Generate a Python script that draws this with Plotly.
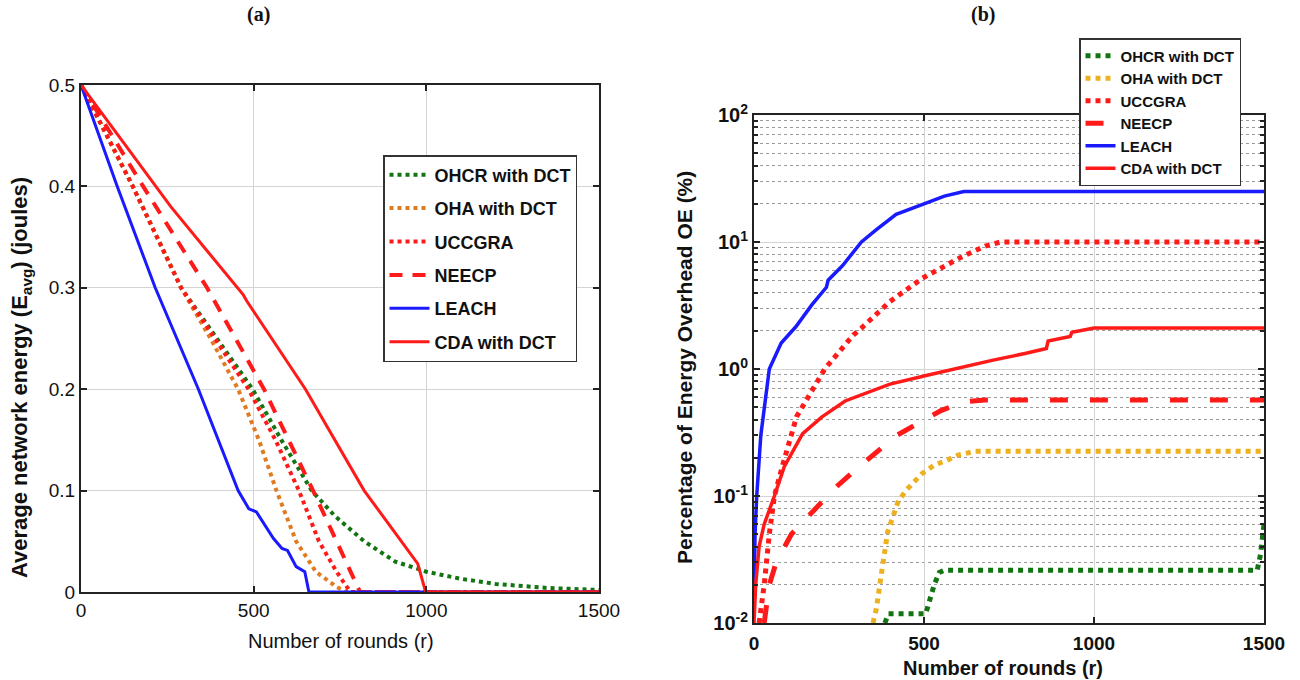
import plotly.graph_objects as go

# ---------- (a) average residual energy per node ----------
a_leach_r = [0, 105, 215, 340, 455, 486, 508, 537, 557, 582, 598, 623, 648, 660, 1500]
a_leach_e = [0.5, 0.4, 0.3, 0.2, 0.1, 0.082, 0.079, 0.064, 0.053, 0.043, 0.041, 0.025, 0.02, 0.0, 0.0]

a_cda_r = [0, 250, 260, 470, 480, 650, 820, 975, 998, 1500]
a_cda_e = [0.5, 0.385, 0.38, 0.293, 0.287, 0.2, 0.1, 0.028, 0.0, 0.0]

a_neecp_r = [0, 180, 365, 530, 672, 808, 1500]
a_neecp_e = [0.5, 0.4, 0.3, 0.2, 0.1, 0.0, 0.0]

a_uccgra_r = [0, 150, 290, 485, 563, 631, 689, 740, 780, 1500]
a_uccgra_e = [0.5, 0.4, 0.3, 0.2, 0.15, 0.1, 0.05, 0.02, 0.0, 0.0]

a_oha_r = [0, 150, 290, 375, 455, 515, 566, 623, 680, 740, 770, 1500]
a_oha_e = [0.5, 0.4, 0.3, 0.25, 0.2, 0.15, 0.1, 0.05, 0.02, 0.005, 0.0, 0.0]

a_ohcr_r = [0, 150, 290, 497, 580, 668, 735, 820, 910, 1000, 1100, 1200, 1350, 1500]
a_ohcr_e = [0.5, 0.4, 0.3, 0.2, 0.15, 0.1, 0.075, 0.05, 0.03, 0.02, 0.013, 0.008, 0.004, 0.002]

# ---------- (b) energy overhead (%) ----------
b_leach_r = [0, 3, 8, 20, 45, 80, 123, 170, 213, 218, 260, 316, 360, 418, 500, 560, 617, 1500]
b_leach_v = [0.012, 0.05, 0.1, 0.3, 1.0, 1.6, 2.15, 3.2, 4.4, 5.0, 6.5, 10, 12.5, 16.5, 20, 23, 25, 25]

b_uccgra_r = [15, 30, 45, 60, 83, 125, 208, 292, 316, 400, 496, 605, 680, 725, 1500]
b_uccgra_v = [0.01, 0.02, 0.05, 0.1, 0.17, 0.42, 1.0, 1.85, 2.1, 3.4, 5.2, 7.5, 9.3, 10, 10]

b_cda_r = [0, 5, 15, 30, 60, 89, 143, 200, 268, 400, 500, 589, 700, 800, 860, 865, 900, 930, 935, 1000, 1500]
b_cda_v = [0.01, 0.02, 0.04, 0.06, 0.1, 0.17, 0.31, 0.42, 0.56, 0.76, 0.88, 1.0, 1.17, 1.33, 1.45, 1.66, 1.72, 1.8, 1.95, 2.1, 2.1]

b_neecp_r = [30, 45, 65, 110, 200, 245, 320, 360, 420, 480, 550, 615, 680, 1500]
b_neecp_v = [0.01, 0.02, 0.03, 0.05, 0.09, 0.12, 0.18, 0.22, 0.3, 0.37, 0.47, 0.55, 0.57, 0.57]

b_oha_r = [350, 360, 370, 380, 393, 423, 446, 494, 530, 565, 600, 650, 1500]
b_oha_v = [0.01, 0.013, 0.02, 0.03, 0.052, 0.089, 0.11, 0.15, 0.175, 0.19, 0.21, 0.225, 0.225]

b_ohcr_r = [385, 395, 505, 515, 530, 545, 560, 1480, 1490, 1500]
b_ohcr_v = [0.01, 0.0118, 0.0118, 0.015, 0.02, 0.025, 0.026, 0.026, 0.035, 0.06]

names = ["OHCR with DCT", "OHA with DCT", "UCCGRA", "NEECP", "LEACH", "CDA with DCT"]

GREEN = "#127512"
ORANGE_A = "#e07b22"
ORANGE_B = "#edb120"
RED = "#ff1a1a"
BLUE = "#1a1aff"

fig = go.Figure()

series_a = [
    (a_ohcr_r, a_ohcr_e, GREEN, "dot", 4),
    (a_oha_r, a_oha_e, ORANGE_A, "dot", 4),
    (a_uccgra_r, a_uccgra_e, RED, "dot", 4),
    (a_neecp_r, a_neecp_e, RED, "13px,10px", 4),
    (a_leach_r, a_leach_e, BLUE, "solid", 3),
    (a_cda_r, a_cda_e, RED, "solid", 3),
]
for i, (xs, ys, c, d, w) in enumerate(series_a):
    fig.add_trace(go.Scatter(x=xs, y=ys, mode="lines", name=names[i],
                             line=dict(color=c, dash=d, width=w),
                             xaxis="x", yaxis="y", legend="legend",
                             legendgroup="a%d" % i))

series_b = [
    (b_ohcr_r, b_ohcr_v, GREEN, "dot", 5),
    (b_oha_r, b_oha_v, ORANGE_B, "dot", 5),
    (b_uccgra_r, b_uccgra_v, RED, "dot", 5),
    (b_neecp_r, b_neecp_v, RED, "18px,22px", 5),
    (b_leach_r, b_leach_v, BLUE, "solid", 3.5),
    (b_cda_r, b_cda_v, RED, "solid", 3.5),
]
for i, (xs, ys, c, d, w) in enumerate(series_b):
    fig.add_trace(go.Scatter(x=xs, y=ys, mode="lines", name=names[i],
                             line=dict(color=c, dash=d, width=w),
                             xaxis="x2", yaxis="y2", legend="legend2",
                             legendgroup="b%d" % i))

W, H = 1300, 680
def px_x(p):
    return p / W
def px_y(p):
    return 1 - p / H

SANS = "Liberation Sans, Arial"
SERIF = "Liberation Serif, Times New Roman"

axis_common = dict(showline=True, linecolor="#222", linewidth=2, mirror="ticks",
                   ticks="inside", ticklen=6, tickwidth=2, tickcolor="#222",
                   zeroline=False, showgrid=True, gridcolor="#d4d4d4", gridwidth=1,
                   automargin=False)

def label(text, x, y, size, bold=True, angle=0, family=SANS):
    return dict(text=text, x=px_x(x), y=px_y(y), xref="paper", yref="paper",
                xanchor="center", yanchor="middle", showarrow=False, textangle=angle,
                font=dict(family=family, size=size, color="#111",
                          weight="bold" if bold else "normal"))

fig.update_layout(
    width=W, height=H, margin=dict(l=0, r=0, t=0, b=0, autoexpand=False),
    plot_bgcolor="white", paper_bgcolor="white",
    xaxis=dict(domain=[px_x(81), px_x(599)], range=[0, 1500], tickvals=[0, 500, 1000, 1500],
               anchor="y", tickfont=dict(family=SANS, size=19, color="#111"),
               **axis_common),
    yaxis=dict(domain=[px_y(592), px_y(85)], range=[0, 0.5], tickvals=[0, 0.1, 0.2, 0.3, 0.4, 0.5],
               ticktext=["0", "0.1", "0.2", "0.3", "0.4", "0.5"],
               anchor="x", tickfont=dict(family=SANS, size=19, color="#111"),
               **axis_common),
    xaxis2=dict(domain=[px_x(754), px_x(1264)], range=[0, 1500], tickvals=[0, 500, 1000, 1500],
                anchor="y2", tickfont=dict(family=SANS, size=19, color="#111", weight="bold"),
                ticklabelstandoff=2,
                **axis_common),
    yaxis2=dict(domain=[px_y(623), px_y(115)], type="log", range=[-2, 2],
                tickvals=[0.01, 0.1, 1, 10, 100],
                ticktext=["10<sup>-2</sup>", "10<sup>-1</sup>", "10<sup>0</sup>", "10<sup>1</sup>", "10<sup>2</sup>"],
                anchor="x2", tickfont=dict(family=SANS, size=20, color="#111", weight="bold"),
                minor=dict(dtick="D1", showgrid=True, griddash="dot", gridcolor="#9a9a9a",
                           gridwidth=1, ticks="inside", ticklen=4, tickcolor="#222"),
                **axis_common),
    legend=dict(x=px_x(383), y=px_y(155), xanchor="left", yanchor="top",
                bgcolor="white", bordercolor="#333", borderwidth=1.5,
                font=dict(family=SANS, size=18, color="#111", weight="bold"),
                tracegroupgap=7, itemwidth=40, traceorder="grouped"),
    legend2=dict(x=px_x(1079), y=px_y(38), xanchor="left", yanchor="top",
                 bgcolor="white", bordercolor="#333", borderwidth=1.5,
                 font=dict(family=SANS, size=15, color="#111", weight="bold"),
                 tracegroupgap=0, itemwidth=30, traceorder="grouped"),
    annotations=[
        label("(a)", 258, 14, 20, family=SERIF),
        label("(b)", 983, 14, 20, family=SERIF),
        label("Average network energy (E<sub>avg</sub>) (joules)", 21, 378, 22, angle=-90),
        label("Number of rounds (r)", 341, 641, 20, bold=False),
        label("Percentage of Energy Overhead OE (%)", 684, 368, 21, angle=-90),
        label("Number of rounds (r)", 1003, 668, 20),
    ],
)

fig.write_html("out.html")
